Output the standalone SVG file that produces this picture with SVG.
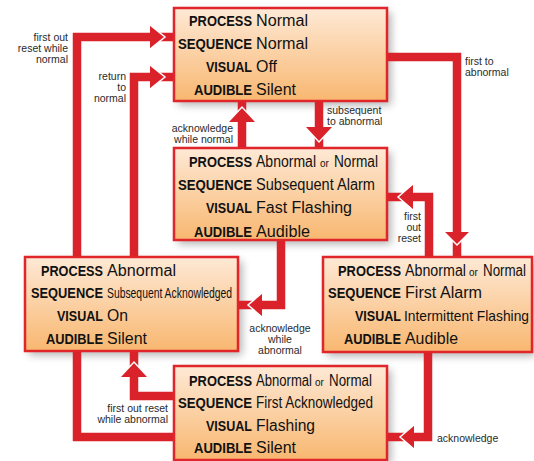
<svg xmlns="http://www.w3.org/2000/svg" width="534" height="461" viewBox="0 0 534 461">
<style>
.c{fill:none;stroke:#d9222a;stroke-width:8.5;stroke-linejoin:miter}
.a{fill:#d9222a}
.w{fill:none;stroke:#fff;stroke-width:1.5}
.box{fill:url(#g);stroke:#e0252b;stroke-width:2.5}
.sh{fill:#000;opacity:0.3;filter:url(#blur)}
.k{font-family:"Liberation Sans",Arial,sans-serif;font-weight:bold;font-size:15px;text-anchor:end;fill:#111}
.v{font-family:"Liberation Sans",Arial,sans-serif;font-size:16px;fill:#111}
.o{font-size:10px}
.l{font-family:"Liberation Sans",Arial,sans-serif;font-size:10.5px;fill:#2a2a2a}
.r{text-anchor:end}
.m{text-anchor:middle}
</style>
<defs>
<linearGradient id="g" x1="0" y1="0" x2="0" y2="1">
<stop offset="0" stop-color="#fee9d6"/>
<stop offset="1" stop-color="#f8b770"/>
</linearGradient>
<filter id="blur" x="-20%" y="-20%" width="140%" height="140%"><feGaussianBlur stdDeviation="4"/></filter>
</defs>

<g id="shadows">
<rect class="sh" x="178" y="12" width="213" height="93"/>
<rect class="sh" x="178" y="152" width="213" height="92"/>
<rect class="sh" x="29" y="261" width="213" height="94"/>
<rect class="sh" x="327" y="261" width="208" height="95"/>
<rect class="sh" x="178" y="370" width="213" height="94"/>
</g>

<g id="connectors">
<path class="c" d="M174,437 H77 V37 H174"/>
<path class="c" d="M134,257 V77 H174"/>
<path class="c" d="M174,396 H134 V351"/>
<path class="c" d="M242,148 V100"/>
<path class="c" d="M319,100 V148"/>
<path class="c" d="M387,57 H457 V257"/>
<path class="c" d="M429,257 V197 H387"/>
<path class="c" d="M281,240 V305 H238"/>
<path class="c" d="M428,352 V437 H387"/>
<polygon class="a" points="150,25 165,37 150,49"/><path class="w" d="M150,25 L165,37 L150,49"/>
<polygon class="a" points="150,65 165,77 150,89"/><path class="w" d="M150,65 L165,77 L150,89"/>
<polygon class="a" points="120,377 134,362 148,377"/><path class="w" d="M120,377 L134,362 L148,377"/>
<polygon class="a" points="228,122 242,107 256,122"/><path class="w" d="M228,122 L242,107 L256,122"/>
<polygon class="a" points="305,127 319,142 333,127"/><path class="w" d="M305,127 L319,142 L333,127"/>
<polygon class="a" points="444,232 457,245 470,232"/><path class="w" d="M444,232 L457,245 L470,232"/>
<polygon class="a" points="413,184 398,197 413,210"/><path class="w" d="M413,184 L398,197 L413,210"/>
<polygon class="a" points="262,293 248,305 262,317"/><path class="w" d="M262,293 L248,305 L262,317"/>
<polygon class="a" points="414,425 400,437 414,449"/><path class="w" d="M414,425 L400,437 L414,449"/>
<text class="l r" x="68" y="41">first out</text>
<text class="l r" x="68" y="52">reset while</text>
<text class="l r" x="68" y="63">normal</text>
<text class="l r" x="126" y="80">return</text>
<text class="l r" x="126" y="91">to</text>
<text class="l r" x="126" y="102">normal</text>
<text class="l r" x="233" y="132">acknowledge</text>
<text class="l r" x="233" y="143">while normal</text>
<text class="l" x="327" y="114">subsequent</text>
<text class="l" x="327" y="125">to abnormal</text>
<text class="l" x="465" y="65">first to</text>
<text class="l" x="465" y="76">abnormal</text>
<text class="l r" x="421" y="220">first</text>
<text class="l r" x="421" y="231">out</text>
<text class="l r" x="421" y="242">reset</text>
<text class="l m" x="280" y="332">acknowledge</text>
<text class="l m" x="280" y="343">while</text>
<text class="l m" x="280" y="354">abnormal</text>
<text class="l r" x="168" y="412">first out reset</text>
<text class="l r" x="168" y="423">while abnormal</text>
<text class="l" x="437" y="442">acknowledge</text>
</g>

<g id="normal">
<rect class="box" x="174" y="8" width="213" height="93"/>
<text class="k" x="252" y="26" textLength="63" lengthAdjust="spacingAndGlyphs">PROCESS</text>
<text class="v" x="256" y="26" textLength="52" lengthAdjust="spacingAndGlyphs">Normal</text>
<text class="k" x="252" y="49" textLength="74" lengthAdjust="spacingAndGlyphs">SEQUENCE</text>
<text class="v" x="256" y="49" textLength="52" lengthAdjust="spacingAndGlyphs">Normal</text>
<text class="k" x="252" y="72" textLength="46" lengthAdjust="spacingAndGlyphs">VISUAL</text>
<text class="v" x="256" y="72" textLength="21" lengthAdjust="spacingAndGlyphs">Off</text>
<text class="k" x="252" y="95" textLength="58" lengthAdjust="spacingAndGlyphs">AUDIBLE</text>
<text class="v" x="256" y="95" textLength="40" lengthAdjust="spacingAndGlyphs">Silent</text>
</g>

<g id="subsequent-alarm">
<rect class="box" x="174" y="148" width="213" height="92"/>
<text class="k" x="252" y="167" textLength="63" lengthAdjust="spacingAndGlyphs">PROCESS</text>
<text class="v" y="167"><tspan x="256" textLength="60" lengthAdjust="spacingAndGlyphs">Abnormal</tspan><tspan class="o" x="320">or</tspan><tspan x="334" textLength="44" lengthAdjust="spacingAndGlyphs">Normal</tspan></text>
<text class="k" x="252" y="190" textLength="74" lengthAdjust="spacingAndGlyphs">SEQUENCE</text>
<text class="v" x="256" y="190" textLength="119" lengthAdjust="spacingAndGlyphs">Subsequent Alarm</text>
<text class="k" x="252" y="213" textLength="46" lengthAdjust="spacingAndGlyphs">VISUAL</text>
<text class="v" x="256" y="213" textLength="96" lengthAdjust="spacingAndGlyphs">Fast Flashing</text>
<text class="k" x="252" y="237" textLength="58" lengthAdjust="spacingAndGlyphs">AUDIBLE</text>
<text class="v" x="256" y="237" textLength="54" lengthAdjust="spacingAndGlyphs">Audible</text>
</g>

<g id="subsequent-acknowledged">
<rect class="box" x="25" y="257" width="213" height="94"/>
<text class="k" x="103" y="276" textLength="62" lengthAdjust="spacingAndGlyphs">PROCESS</text>
<text class="v" x="107" y="276" textLength="69" lengthAdjust="spacingAndGlyphs">Abnormal</text>
<text class="k" x="103" y="298" textLength="72" lengthAdjust="spacingAndGlyphs">SEQUENCE</text>
<text class="v" x="107" y="298" style="font-size:14px" textLength="125" lengthAdjust="spacingAndGlyphs">Subsequent Acknowledged</text>
<text class="k" x="103" y="321" textLength="46" lengthAdjust="spacingAndGlyphs">VISUAL</text>
<text class="v" x="107" y="321" textLength="21" lengthAdjust="spacingAndGlyphs">On</text>
<text class="k" x="103" y="344" textLength="57" lengthAdjust="spacingAndGlyphs">AUDIBLE</text>
<text class="v" x="107" y="344" textLength="40" lengthAdjust="spacingAndGlyphs">Silent</text>
</g>

<g id="first-alarm">
<rect class="box" x="323" y="257" width="209" height="95"/>
<text class="k" x="401" y="276" textLength="63" lengthAdjust="spacingAndGlyphs">PROCESS</text>
<text class="v" y="276"><tspan x="405" textLength="61" lengthAdjust="spacingAndGlyphs">Abnormal</tspan><tspan class="o" x="469">or</tspan><tspan x="483" textLength="43" lengthAdjust="spacingAndGlyphs">Normal</tspan></text>
<text class="k" x="401" y="298" textLength="73" lengthAdjust="spacingAndGlyphs">SEQUENCE</text>
<text class="v" x="405" y="298" textLength="77" lengthAdjust="spacingAndGlyphs">First Alarm</text>
<text class="k" x="401" y="321" textLength="46" lengthAdjust="spacingAndGlyphs">VISUAL</text>
<text class="v" x="404" y="321" style="font-size:14.5px" textLength="125" lengthAdjust="spacingAndGlyphs">Intermittent Flashing</text>
<text class="k" x="401" y="344" textLength="57" lengthAdjust="spacingAndGlyphs">AUDIBLE</text>
<text class="v" x="405" y="344" textLength="53" lengthAdjust="spacingAndGlyphs">Audible</text>
</g>

<g id="first-acknowledged">
<rect class="box" x="174" y="366" width="213" height="94"/>
<text class="k" x="252" y="386" textLength="63" lengthAdjust="spacingAndGlyphs">PROCESS</text>
<text class="v" y="386"><tspan x="256" textLength="56" lengthAdjust="spacingAndGlyphs">Abnormal</tspan><tspan class="o" x="315">or</tspan><tspan x="329" textLength="43" lengthAdjust="spacingAndGlyphs">Normal</tspan></text>
<text class="k" x="252" y="408" textLength="74" lengthAdjust="spacingAndGlyphs">SEQUENCE</text>
<text class="v" x="256" y="408" textLength="117" lengthAdjust="spacingAndGlyphs">First Acknowledged</text>
<text class="k" x="252" y="431" textLength="46" lengthAdjust="spacingAndGlyphs">VISUAL</text>
<text class="v" x="256" y="431" textLength="59" lengthAdjust="spacingAndGlyphs">Flashing</text>
<text class="k" x="252" y="453" textLength="58" lengthAdjust="spacingAndGlyphs">AUDIBLE</text>
<text class="v" x="256" y="453" textLength="40" lengthAdjust="spacingAndGlyphs">Silent</text>
</g>
</svg>
